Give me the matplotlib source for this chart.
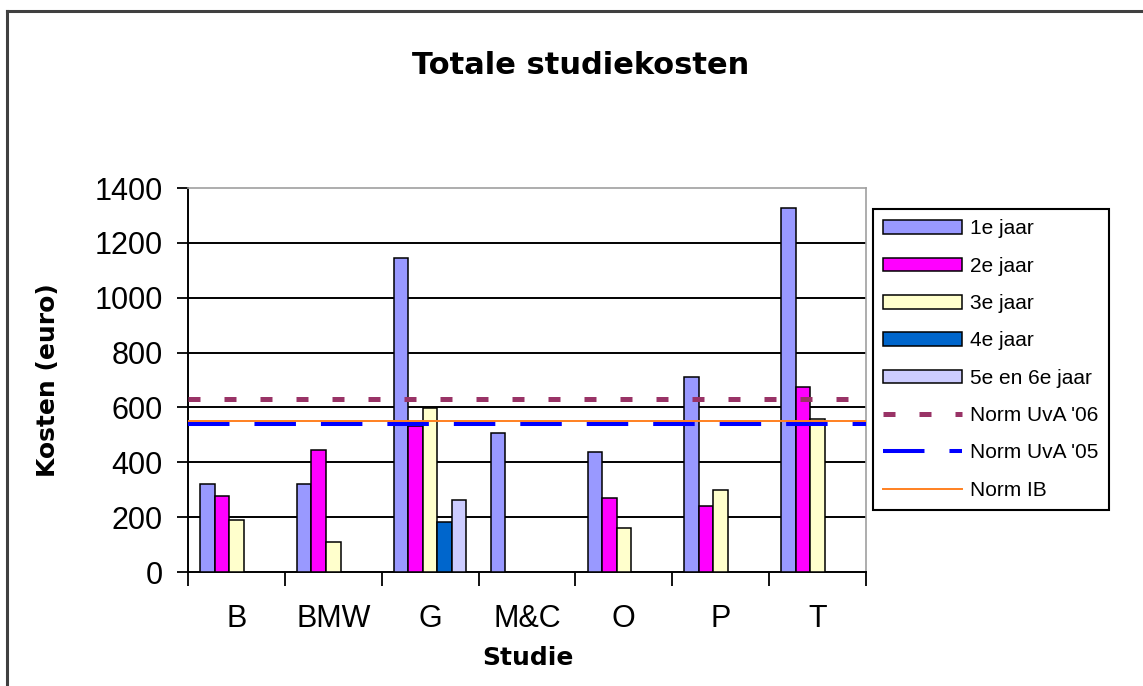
import numpy as np
import matplotlib
matplotlib.use("Agg")
import matplotlib.pyplot as plt
from matplotlib.lines import Line2D

# Data
studies = ["B", "BMW", "G", "M&C", "O", "P", "T"]
jaar_1 = [320, 322, 1143, 505, 438, 710, 1327]
jaar_2 = [276, 446, 533, np.nan, 269, 240, 674]
jaar_3 = [191, 110, 599, np.nan, 159, 300, 556]
jaar_4 = [np.nan, np.nan, 183, np.nan, np.nan, np.nan, np.nan]
jaar_5_6 = [np.nan, np.nan, 263, np.nan, np.nan, np.nan, np.nan]
series_names = ["1e jaar", "2e jaar", "3e jaar", "4e jaar", "5e en 6e jaar"]
series_colors = ["#9999FF", "#FF00FF", "#FFFFCC", "#0066CC", "#CCCCFF"]
norm_uva_06 = 630
norm_uva_05 = 538
norm_ib = 549
y_ticks = [0, 200, 400, 600, 800, 1000, 1200, 1400]

W, H = 1143, 686
fig = plt.figure(figsize=(W / 100, H / 100), dpi=100)
fig.patch.set_facecolor("white")

# outer chart frame (only top and left visible in the crop)
fig.add_artist(Line2D([7 / W, 7 / W], [0, 1 - 11 / H], color="#404040", lw=2.2,
                      transform=fig.transFigure))
fig.add_artist(Line2D([7 / W, 1], [1 - 11 / H, 1 - 11 / H], color="#404040", lw=2.2,
                      transform=fig.transFigure))

ax = fig.add_axes([188 / W, 1 - 572 / H, (866 - 188) / W, (572 - 188) / H])

x = np.arange(len(studies))
bw = 0.15
all_series = [jaar_1, jaar_2, jaar_3, jaar_4, jaar_5_6]
handles = []
for i, (vals, name, col) in enumerate(zip(all_series, series_names, series_colors)):
    b = ax.bar(x + (i - 2) * bw, vals, width=bw, color=col, edgecolor="black",
               linewidth=1.1, label=name, zorder=3)
    handles.append(b)

l06 = ax.axhline(norm_uva_06, color="#993366", lw=3.6, zorder=4, label="Norm UvA '06")
l06.set_dashes([2.4, 4.8])
l05 = ax.axhline(norm_uva_05, color="#0000FF", lw=2.9, zorder=4, label="Norm UvA '05")
l05.set_dashes([10.3, 6.2])
lib = ax.axhline(norm_ib, color="#FF8020", lw=1.4, zorder=5, label="Norm IB")

ax.set_xlim(-0.5, len(studies) - 0.5)
ax.set_ylim(0, 1400)
ax.set_yticks(y_ticks)
ax.set_yticklabels([str(t) for t in y_ticks], fontsize=22, family="Liberation Sans")
ax.tick_params(axis="y", direction="out", length=8, width=1.3, pad=10)

# category boundaries as major ticks, labels at centers
ax.set_xticks(np.arange(-0.5, len(studies), 1.0))
ax.set_xticklabels([])
ax.set_xticks(x, minor=True)
ax.set_xticklabels(studies, minor=True, fontsize=22, family="Liberation Sans")
ax.tick_params(axis="x", which="major", direction="out", length=10, width=1.3)
ax.tick_params(axis="x", which="minor", length=0, pad=23)

for t in y_ticks[1:-1]:
    ax.axhline(t, color="black", lw=1.4, zorder=1)

ax.spines["left"].set_linewidth(1.4)
ax.spines["bottom"].set_linewidth(1.4)
ax.spines["top"].set_color("#A0A0A0")
ax.spines["right"].set_color("#A0A0A0")
ax.spines["top"].set_linewidth(1.2)
ax.spines["right"].set_linewidth(1.2)

fig.text(581 / W, 1 - 65 / H, "Totale studiekosten", fontsize=22, fontweight="bold",
         ha="center", va="center", family="DejaVu Sans")
fig.text(48 / W, 1 - 380 / H, "Kosten (euro)", fontsize=18, fontweight="bold",
         rotation=90, ha="center", va="center", family="DejaVu Sans")
fig.text(528 / W, 1 - 658 / H, "Studie", fontsize=18, fontweight="bold",
         ha="center", va="center", family="DejaVu Sans")

leg = fig.legend(handles + [l06, l05, lib], series_names + ["Norm UvA '06", "Norm UvA '05", "Norm IB"],
                 loc="upper left", bbox_to_anchor=(873 / W, 1 - 209 / H),
                 bbox_transform=fig.transFigure, borderaxespad=0,
                 fancybox=False, edgecolor="black", framealpha=1,
                 prop={"family": "Liberation Sans", "size": 15},
                 handlelength=3.75, handleheight=0.62, handletextpad=0.42,
                 labelspacing=0.88, borderpad=0.5)
leg.get_frame().set_linewidth(1.5)

fig.savefig("out.png", dpi=100)
